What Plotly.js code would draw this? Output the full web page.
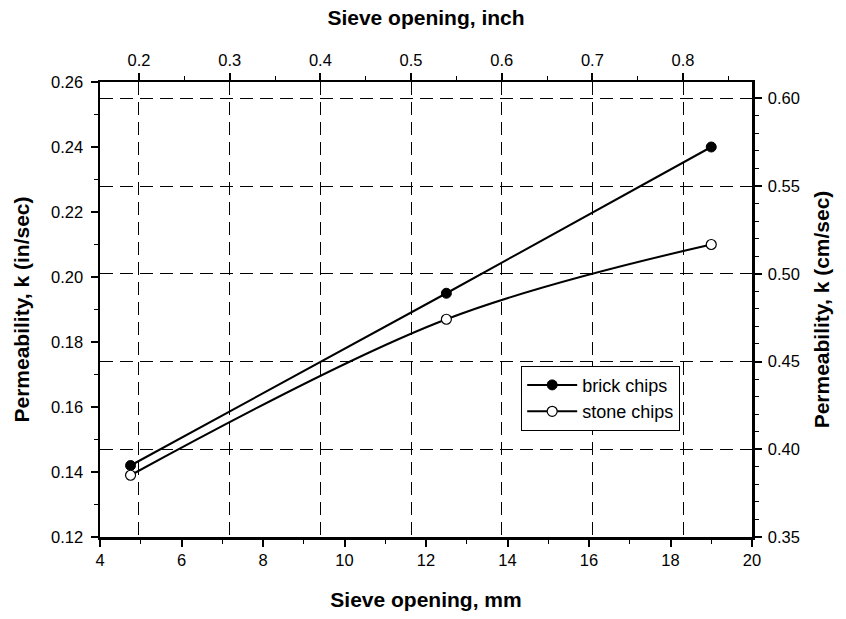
<!DOCTYPE html>
<html>
<head>
<meta charset="utf-8">
<script src="https://cdn.plot.ly/plotly-3.0.1.min.js"></script>
<style>html,body{margin:0;padding:0;background:#fff;}#chart{width:846px;height:619px;}</style>
</head>
<body>
<div id="chart"></div>
<script>
// Data
const sieveMM = [4.75, 12.5, 19];
const brickChips = [0.142, 0.195, 0.240];
const stoneChips = [0.139, 0.187, 0.210];
const seriesNames = ["brick chips", "stone chips"];

const bottomTicks = [4, 6, 8, 10, 12, 14, 16, 18, 20];
const topTicks = [0.2, 0.3, 0.4, 0.5, 0.6, 0.7, 0.8];
const leftTicks = [0.12, 0.14, 0.16, 0.18, 0.20, 0.22, 0.24, 0.26];
const rightTicks = [0.35, 0.40, 0.45, 0.50, 0.55, 0.60];

const FONT = "Liberation Sans, Arial, Helvetica, sans-serif";
const TICK_SIZE = 16.5;
const TITLE_SIZE = 21;

const traces = [
  {
    x: sieveMM, y: brickChips, name: seriesNames[0], type: "scatter", mode: "lines+markers",
    line: {color: "#000", width: 2},
    marker: {symbol: "circle", size: 10, color: "#000", line: {color: "#000", width: 1}},
    xaxis: "x", yaxis: "y"
  },
  {
    x: sieveMM, y: stoneChips, name: seriesNames[1], type: "scatter", mode: "lines+markers",
    line: {color: "#000", width: 2, shape: "spline", smoothing: 1},
    marker: {symbol: "circle", size: 10, color: "#fff", line: {color: "#000", width: 1.2}},
    xaxis: "x", yaxis: "y"
  },
  {
    x: [], y: [], type: "scatter", mode: "markers", showlegend: false, hoverinfo: "skip",
    xaxis: "x2", yaxis: "y2"
  }
];

const axCommon = {
  showline: true, linecolor: "#000", linewidth: 2.5, mirror: false,
  ticks: "outside", ticklen: 7, tickwidth: 2, tickcolor: "#000",
  zeroline: false, fixedrange: true,
  tickfont: {family: FONT, size: TICK_SIZE, color: "#000"}
};

const layout = {
  width: 846, height: 619,
  margin: {l: 100, r: 94, t: 82, b: 82},
  paper_bgcolor: "#fff", plot_bgcolor: "#fff",
  showlegend: true,
  font: {family: FONT, color: "#000"},
  xaxis: Object.assign({}, axCommon, {
    range: [4, 20], tickmode: "array", tickvals: bottomTicks, ticktext: bottomTicks.map(String),
    showgrid: false,
    minor: {dtick: 1, ticks: "outside", ticklen: 4, tickwidth: 1, tickcolor: "#000", showgrid: false},
    title: {text: "<b>Sieve opening, mm</b>", font: {family: FONT, size: TITLE_SIZE, color: "#000"}, standoff: 24}
  }),
  xaxis2: Object.assign({}, axCommon, {
    range: [0.157, 0.876], overlaying: "x", side: "top", anchor: "y",
    tickmode: "array", tickvals: topTicks, ticktext: topTicks.map(v => v.toFixed(1)),
    showgrid: true, gridcolor: "#000", gridwidth: 1, griddash: "13px,7px",
    minor: {dtick: 0.05, tick0: 0.15, ticks: "outside", ticklen: 4, tickwidth: 1, tickcolor: "#000", showgrid: false},
    title: {text: "<b>Sieve opening, inch</b>", font: {family: FONT, size: TITLE_SIZE, color: "#000"}, standoff: 20}
  }),
  yaxis: Object.assign({}, axCommon, {
    range: [0.12, 0.26], tickmode: "array", tickvals: leftTicks, ticktext: leftTicks.map(v => v.toFixed(2)),
    showgrid: false, ticklabelstandoff: 4,
    minor: {dtick: 0.01, tick0: 0.12, ticks: "outside", ticklen: 4, tickwidth: 1, tickcolor: "#000", showgrid: false},
    title: {text: "<b>Permeability, k (in/sec)</b>", font: {family: FONT, size: TITLE_SIZE, color: "#000"}, standoff: 16}
  }),
  yaxis2: Object.assign({}, axCommon, {
    range: [0.35, 0.6093], overlaying: "y", side: "right", anchor: "x",
    tickmode: "array", tickvals: rightTicks, ticktext: rightTicks.map(v => v.toFixed(2)),
    showgrid: true, gridcolor: "#000", gridwidth: 1, griddash: "13px,7px", ticklabelstandoff: 3,
    minor: {dtick: 0.01, tick0: 0.35, ticks: "outside", ticklen: 4, tickwidth: 1, tickcolor: "#000", showgrid: false},
    title: {text: "<b>Permeability, k (cm/sec)</b>", font: {family: FONT, size: TITLE_SIZE, color: "#000"}, standoff: 16}
  }),
  legend: {
    x: 0.646, y: 0.3765, xanchor: "left", yanchor: "top",
    bgcolor: "#fff", bordercolor: "#000", borderwidth: 1,
    font: {family: FONT, size: 18, color: "#000"},
    itemwidth: 50, tracegroupgap: 0
  }
};

Plotly.newPlot("chart", traces, layout, {staticPlot: true, displayModeBar: false});
</script>
</body>
</html>
